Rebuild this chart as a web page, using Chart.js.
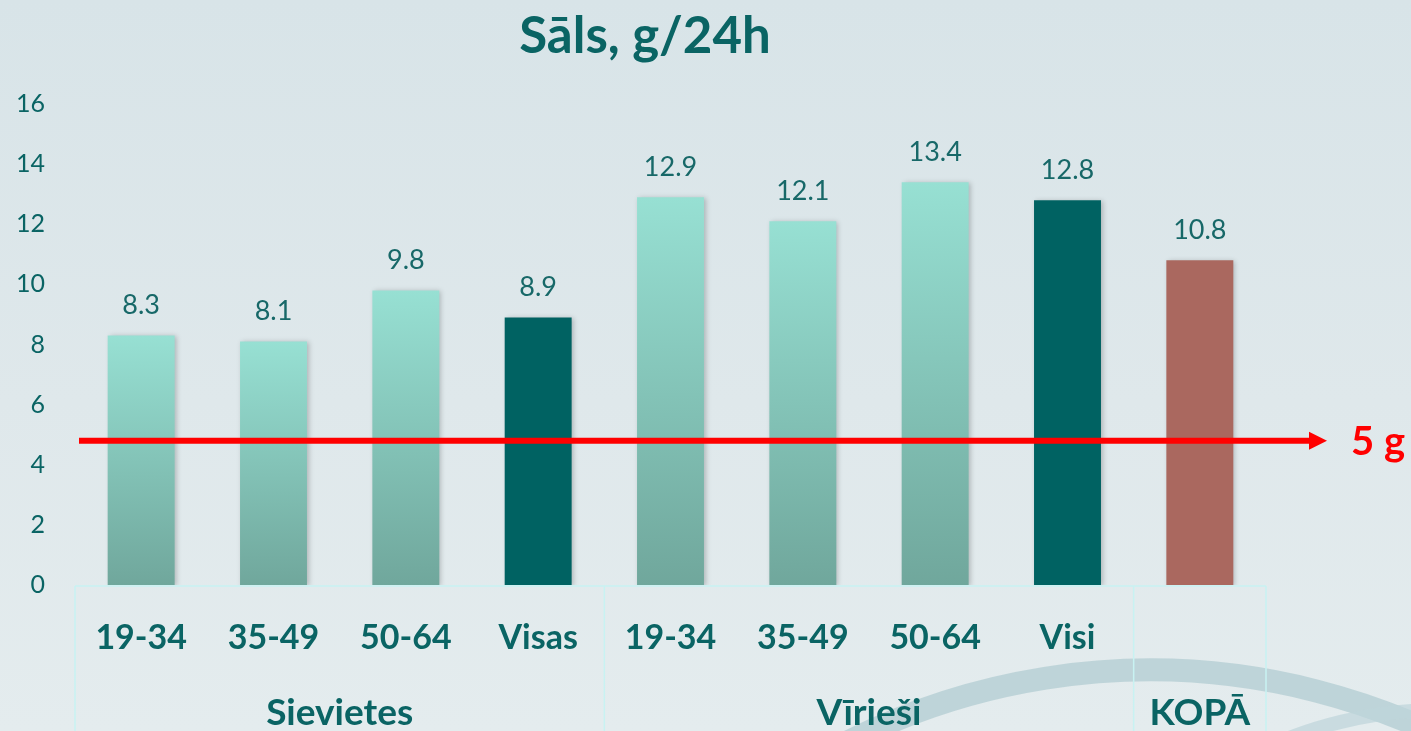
<!DOCTYPE html>
<html>
<head>
<meta charset="utf-8">
<script src="https://cdn.jsdelivr.net/npm/chart.js@4.4.1/dist/chart.umd.min.js"></script>
<style>
  html, body { margin: 0; padding: 0; width: 1411px; height: 731px; overflow: hidden; }
  body { background: linear-gradient(180deg, #d8e4e8 0%, #dfe8eb 55%, #e4ecee 100%); }
  #wrap { position: relative; width: 1411px; height: 731px; }
</style>
</head>
<body>
<div id="wrap"><canvas id="c" width="1411" height="731"></canvas></div>
<script>
// ---- data ----
const chartTitle = 'Sāls, g/24h';
const categories = ['19-34', '35-49', '50-64', 'Visas', '19-34', '35-49', '50-64', 'Visi', ''];
const saltValues = [8.3, 8.1, 9.8, 8.9, 12.9, 12.1, 13.4, 12.8, 10.8];
const barKinds = ['age', 'age', 'age', 'group', 'age', 'age', 'age', 'group', 'total'];
const groupNames = ['Sievietes', 'Vīrieši', 'KOPĀ'];
const groupSizes = [4, 4, 1];
const yMin = 0, yMax = 16, yStep = 2;
const limitValue = 4.8;
const limitLabel = '5 g';

// ---- styles ----
const TEAL = '#0a6464';
const FONT = 'Lato, "Open Sans", sans-serif';

const bgPlugin = {
  id: 'bgDecor',
  beforeDraw(chart) {
    const ctx = chart.ctx;
    ctx.save();
    ctx.strokeStyle = 'rgba(178,204,210,0.75)';
    ctx.lineWidth = 23;
    ctx.beginPath();
    ctx.arc(1150, 1340, 670, Math.PI * 1.2, Math.PI * 1.95);
    ctx.stroke();
    ctx.lineWidth = 14;
    ctx.strokeStyle = 'rgba(190,212,218,0.7)';
    ctx.beginPath();
    ctx.arc(1440, 1130, 420, Math.PI * 1.25, Math.PI * 1.6);
    ctx.stroke();
    ctx.restore();
  }
};

const shadowPlugin = {
  id: 'barShadow',
  beforeDatasetsDraw(chart) {
    const ctx = chart.ctx;
    ctx.save();
    ctx.shadowColor = 'rgba(0,0,0,0.22)';
    ctx.shadowBlur = 5;
    ctx.shadowOffsetX = 2;
    ctx.shadowOffsetY = 1;
  },
  afterDatasetsDraw(chart) {
    chart.ctx.restore();
  }
};

const overlayPlugin = {
  id: 'overlay',
  afterDatasetsDraw(chart) {
    const ctx = chart.ctx;
    const y = chart.scales.y;
    const area = chart.chartArea;
    const meta = chart.getDatasetMeta(0);

    // title
    ctx.save();
    ctx.fillStyle = TEAL;
    ctx.font = 'bold 51px ' + FONT;
    ctx.textAlign = 'center';
    ctx.textBaseline = 'middle';
    ctx.fillText(chartTitle, 645, 37);

    // value labels
    ctx.font = '27px ' + FONT;
    ctx.fillStyle = '#176868';
    meta.data.forEach((bar, i) => {
      ctx.fillText(saltValues[i].toFixed(1), bar.x, y.getPixelForValue(saltValues[i]) - 30);
    });

    // grouping box
    const step = (area.right - area.left) / categories.length;
    ctx.strokeStyle = '#c8f2f2';
    ctx.lineWidth = 1.5;
    ctx.beginPath();
    ctx.moveTo(area.left, area.bottom + 1);
    ctx.lineTo(area.right, area.bottom + 1);
    let edge = area.left;
    const edges = [edge];
    groupSizes.forEach(n => { edge += n * step; edges.push(edge); });
    edges.forEach(ex => { ctx.moveTo(ex, area.bottom + 1); ctx.lineTo(ex, chart.height); });
    ctx.stroke();

    // group labels
    ctx.fillStyle = TEAL;
    ctx.font = 'bold 37px ' + FONT;
    groupNames.forEach((g, i) => {
      ctx.fillText(g, (edges[i] + edges[i + 1]) / 2, 713);
    });

    // recommended limit arrow
    const ly = y.getPixelForValue(limitValue);
    const x0 = 79, tip = 1327;
    ctx.strokeStyle = '#ff0000';
    ctx.fillStyle = '#ff0000';
    ctx.lineWidth = 6;
    ctx.beginPath();
    ctx.moveTo(x0, ly);
    ctx.lineTo(tip - 14, ly);
    ctx.stroke();
    ctx.beginPath();
    ctx.moveTo(tip, ly);
    ctx.lineTo(tip - 18, ly - 9);
    ctx.lineTo(tip - 18, ly + 9);
    ctx.closePath();
    ctx.fill();
    ctx.font = 'bold 40px ' + FONT;
    ctx.textAlign = 'left';
    ctx.fillText(limitLabel, 1351, ly + 1);
    ctx.restore();
  }
};

function barColor(c) {
  const i = c.dataIndex;
  const kind = barKinds[i];
  if (kind === 'group') return '#006262';
  if (kind === 'total') return '#aa685f';
  const chart = c.chart;
  if (!chart.chartArea || !chart.scales.y) return '#8fd0c4';
  const yTop = chart.scales.y.getPixelForValue(saltValues[i]);
  const yBot = chart.scales.y.getPixelForValue(0);
  const g = chart.ctx.createLinearGradient(0, yTop, 0, yBot);
  g.addColorStop(0, '#97e0d3');
  g.addColorStop(1, '#70a79c');
  return g;
}

new Chart(document.getElementById('c'), {
  type: 'bar',
  data: {
    labels: categories,
    datasets: [{
      data: saltValues,
      backgroundColor: barColor,
      borderWidth: 0,
      categoryPercentage: 1.0,
      barPercentage: 0.506
    }]
  },
  options: {
    responsive: false,
    animation: false,
    layout: { padding: { top: 104, right: 145, left: 0, bottom: 0 } },
    plugins: { legend: { display: false }, tooltip: { enabled: false }, title: { display: false } },
    scales: {
      x: {
        grid: { display: false, drawTicks: false },
        border: { display: false },
        ticks: { color: TEAL, font: { family: FONT, size: 34, weight: 'bold' }, padding: 33, maxRotation: 0, autoSkip: false },
        afterFit(s) { s.height = 146; }
      },
      y: {
        min: yMin, max: yMax,
        grid: { display: false, drawTicks: false },
        border: { display: false },
        ticks: { stepSize: yStep, color: TEAL, font: { family: FONT, size: 25 }, padding: 30 },
        afterFit(s) { s.width = 75; }
      }
    }
  },
  plugins: [bgPlugin, shadowPlugin, overlayPlugin]
});
</script>
</body>
</html>
